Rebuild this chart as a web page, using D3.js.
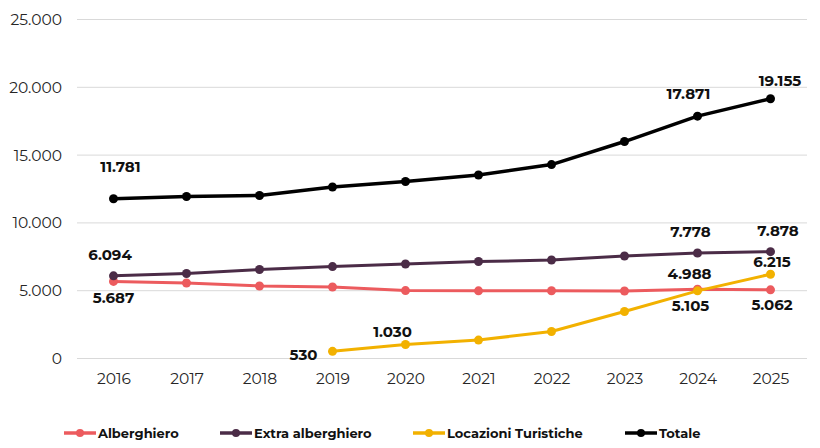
<!DOCTYPE html>
<html>
<head>
<meta charset="utf-8">
<script src="https://cdn.jsdelivr.net/npm/d3@7"></script>
<style>
  body { margin: 0; background: #fff; }
  svg text { font-family: Montserrat, "Open Sans", sans-serif; }
</style>
</head>
<body>
<div id="chart"></div>
<script>
var years = ["2016", "2017", "2018", "2019", "2020", "2021", "2022", "2023", "2024", "2025"];
var alberghiero = [5687, 5570, 5350, 5270, 5010, 4990, 5000, 4980, 5105, 5062];
var extraAlberghiero = [6094, 6270, 6560, 6780, 6970, 7150, 7260, 7560, 7778, 7878];
var locazioni = [null, null, null, 530, 1030, 1360, 1990, 3470, 4988, 6215];
var totale = [11781, 11947, 12020, 12650, 13050, 13530, 14300, 16000, 17871, 19155];
var yTicks = [0, 5000, 10000, 15000, 20000, 25000];

var series = [
  {name: "Alberghiero", values: alberghiero, color: "#EC5B5E", width: 3},
  {name: "Extra alberghiero", values: extraAlberghiero, color: "#4B2C47", width: 3},
  {name: "Locazioni Turistiche", values: locazioni, color: "#F2B100", width: 3},
  {name: "Totale", values: totale, color: "#000000", width: 3.5}
];

// which points get a value label, and where it sits relative to the point
var labels = [
  {s: 3, i: 0, dx: 7, dy: -32},
  {s: 3, i: 8, dx: -9, dy: -23},
  {s: 3, i: 9, dx: 9.5, dy: -18},
  {s: 1, i: 0, dx: -3.5, dy: -21.5},
  {s: 1, i: 8, dx: -7, dy: -22},
  {s: 1, i: 9, dx: 7.5, dy: -21},
  {s: 0, i: 0, dx: 0, dy: 16},
  {s: 0, i: 8, dx: -7, dy: 16},
  {s: 0, i: 9, dx: 1.5, dy: 15},
  {s: 2, i: 3, dx: -29, dy: 3},
  {s: 2, i: 4, dx: -13, dy: -13},
  {s: 2, i: 8, dx: -8, dy: -17.5},
  {s: 2, i: 9, dx: 1.5, dy: -12.5}
];

var width = 820, height = 448;
var margin = {top: 19.5, right: 13, bottom: 89.5, left: 77};

var fmt = d3.formatLocale({decimal: ",", thousands: ".", grouping: [3], currency: ["", "€"]}).format(",");

var svg = d3.select("#chart").append("svg")
    .attr("width", width)
    .attr("height", height);

var x = d3.scalePoint()
    .domain(years)
    .range([margin.left, width - margin.right])
    .padding(0.5);

var y = d3.scaleLinear()
    .domain([0, 25000])
    .range([height - margin.bottom, margin.top]);

// gridlines
svg.append("g")
    .selectAll("line")
    .data(yTicks)
  .enter().append("line")
    .attr("x1", margin.left)
    .attr("x2", width - margin.right)
    .attr("y1", function(d) { return y(d); })
    .attr("y2", function(d) { return y(d); })
    .style("stroke", "#d9d9d9")
    .style("stroke-width", 1);

var yAxis = svg.append("g")
    .attr("transform", "translate(" + (margin.left - 15) + ",0)")
    .call(d3.axisLeft(y).tickValues(yTicks).tickSize(0).tickPadding(0).tickFormat(fmt));
yAxis.select(".domain").remove();
yAxis.selectAll("text")
    .style("font-size", "15.5px")
    .style("fill", "#262626");

var xAxis = svg.append("g")
    .attr("transform", "translate(0," + (height - margin.bottom) + ")")
    .call(d3.axisBottom(x).tickSize(0).tickPadding(14));
xAxis.select(".domain").remove();
xAxis.selectAll("text")
    .style("font-size", "15.5px")
    .style("fill", "#262626");

var line = d3.line()
    .defined(function(d) { return d != null; })
    .x(function(d, i) { return x(years[i]); })
    .y(function(d) { return y(d); });

series.forEach(function(s) {
  var g = svg.append("g");
  g.append("path")
      .datum(s.values)
      .attr("d", line)
      .style("fill", "none")
      .style("stroke", s.color)
      .style("stroke-width", s.width)
      .style("stroke-linejoin", "round");
  g.selectAll("circle")
      .data(s.values.map(function(v, i) { return {v: v, i: i}; }).filter(function(d) { return d.v != null; }))
    .enter().append("circle")
      .attr("cx", function(d) { return x(years[d.i]); })
      .attr("cy", function(d) { return y(d.v); })
      .attr("r", 4.5)
      .style("fill", s.color);
});

svg.append("g")
    .selectAll("text")
    .data(labels)
  .enter().append("text")
    .attr("x", function(d) { return x(years[d.i]) + d.dx; })
    .attr("y", function(d) { return y(series[d.s].values[d.i]) + d.dy; })
    .attr("text-anchor", "middle")
    .attr("dominant-baseline", "central")
    .style("font-size", "15px")
    .style("font-weight", "bold")
    .style("fill", "#111")
    .text(function(d) { return fmt(series[d.s].values[d.i]); });

// legend
var legendX = [64, 220, 413, 625];
var legend = svg.append("g")
    .selectAll("g")
    .data(series)
  .enter().append("g")
    .attr("transform", function(d, i) { return "translate(" + legendX[i] + ",433)"; });

legend.append("line")
    .attr("x1", 0).attr("x2", 32)
    .style("stroke", function(d) { return d.color; })
    .style("stroke-width", 3.5);
legend.append("circle")
    .attr("cx", 16)
    .attr("r", 4)
    .style("fill", function(d) { return d.color; });
legend.append("text")
    .attr("x", 34)
    .attr("dominant-baseline", "central")
    .style("font-size", "13px")
    .style("font-weight", "bold")
    .style("fill", "#111")
    .text(function(d) { return d.name; });
</script>
</body>
</html>
